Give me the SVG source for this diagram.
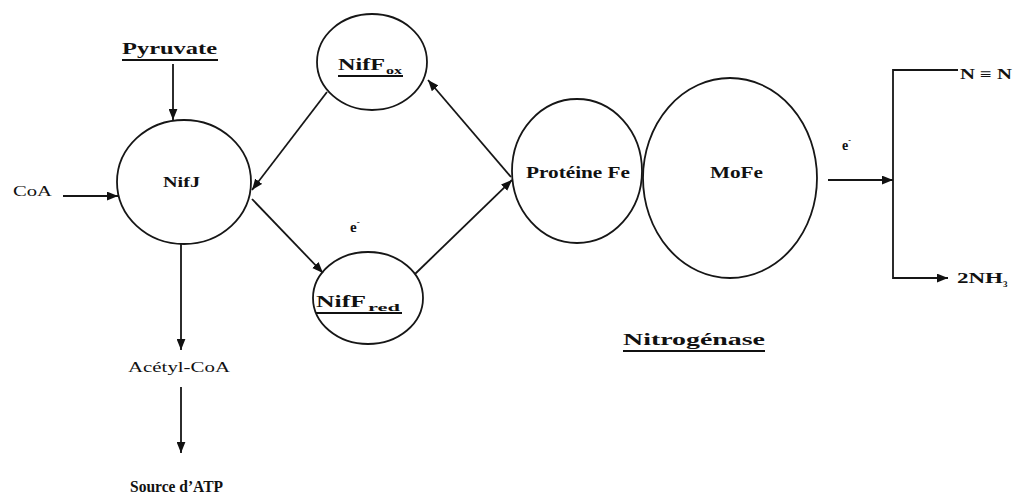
<svg xmlns="http://www.w3.org/2000/svg" width="1018" height="499" viewBox="0 0 1018 499">
<style>
.n{fill:none;stroke:#161616;stroke-width:1.8}
.c{fill:none;stroke:#161616;stroke-width:1.8}
text{font-family:"Liberation Serif","Times New Roman",serif;fill:#111}
.b{font-weight:bold}
.u{stroke:#111;stroke-width:2}
</style>
<defs>
<marker id="ah" viewBox="0 0 10 8" refX="10" refY="4" markerWidth="11" markerHeight="9" orient="auto" markerUnits="userSpaceOnUse"><path d="M0,0 L10,4 L0,8 z" fill="#111"/></marker>
</defs>
<rect width="1018" height="499" fill="#fff"/>
<g id="connectors">
<line class="c" x1="173" y1="64" x2="173" y2="120" marker-end="url(#ah)"/>
<line class="c" x1="63" y1="196" x2="118" y2="196" marker-end="url(#ah)"/>
<line class="c" x1="181" y1="243" x2="181" y2="350" marker-end="url(#ah)"/>
<line class="c" x1="181" y1="387" x2="181" y2="453" marker-end="url(#ah)"/>
<line class="c" x1="327" y1="92" x2="252" y2="190" marker-end="url(#ah)"/>
<line class="c" x1="252" y1="199" x2="323" y2="273" marker-end="url(#ah)"/>
<line class="c" x1="415" y1="274" x2="512" y2="180" marker-end="url(#ah)"/>
<line class="c" x1="511" y1="177" x2="428" y2="80" marker-end="url(#ah)"/>
<line class="c" x1="828" y1="180" x2="893" y2="180" marker-end="url(#ah)"/>
<polyline class="c" points="958,70 893,70 893,278 948,278" marker-end="url(#ah)"/>
</g>
<g id="pyruvate">
<text class="b" x="122" y="54" font-size="17" textLength="95" lengthAdjust="spacingAndGlyphs">Pyruvate</text>
<line class="u" x1="122" y1="60" x2="218" y2="60"/>
</g>
<g id="coa"><text x="13" y="196" font-size="15" textLength="39" lengthAdjust="spacingAndGlyphs">CoA</text></g>
<g id="nifj">
<ellipse class="n" cx="184" cy="182" rx="67" ry="62"/>
<text class="b" x="163" y="187" font-size="15" textLength="37" lengthAdjust="spacingAndGlyphs">NifJ</text>
</g>
<g id="niffox">
<ellipse class="n" cx="372" cy="62" rx="55" ry="48"/>
<text class="b" x="338" y="70" font-size="16" textLength="47" lengthAdjust="spacingAndGlyphs">NifF</text>
<text class="b" x="386" y="74" font-size="10" textLength="16" lengthAdjust="spacingAndGlyphs">ox</text>
<line class="u" x1="338" y1="76" x2="403" y2="76"/>
</g>
<g id="niffred">
<ellipse class="n" cx="368" cy="298" rx="55" ry="46"/>
<text class="b" x="316" y="307" font-size="16" textLength="50" lengthAdjust="spacingAndGlyphs">NifF</text>
<text class="b" x="368" y="311" font-size="10" textLength="32" lengthAdjust="spacingAndGlyphs">red</text>
<line class="u" x1="316" y1="313" x2="402" y2="313"/>
</g>
<g id="e1"><text class="b" x="350" y="232" font-size="15">e<tspan font-size="9" dy="-7">-</tspan></text></g>
<g id="proteinefe">
<ellipse class="n" cx="577" cy="171" rx="65" ry="72"/>
<text class="b" x="526" y="178" font-size="16" textLength="104" lengthAdjust="spacingAndGlyphs">Protéine Fe</text>
</g>
<g id="mofe">
<ellipse class="n" cx="730" cy="178" rx="87" ry="100"/>
<text class="b" x="710" y="178" font-size="16" textLength="53" lengthAdjust="spacingAndGlyphs">MoFe</text>
</g>
<g id="e2"><text class="b" x="842" y="150" font-size="14">e<tspan font-size="8" dy="-7">-</tspan></text></g>
<g id="n2"><text class="b" x="960" y="79" font-size="14" textLength="52" lengthAdjust="spacingAndGlyphs">N ≡ N</text></g>
<g id="nh3">
<text class="b" x="957" y="283" font-size="15" textLength="46" lengthAdjust="spacingAndGlyphs">2NH</text>
<text class="b" x="1003" y="287" font-size="9">3</text>
</g>
<g id="acetylcoa"><text x="128" y="372" font-size="15" textLength="102" lengthAdjust="spacingAndGlyphs">Acétyl-CoA</text></g>
<g id="sourceatp"><text class="b" x="130" y="492" font-size="16" textLength="93" lengthAdjust="spacingAndGlyphs">Source d’ATP</text></g>
<g id="nitrogenase">
<text class="b" x="623" y="345" font-size="17" textLength="142" lengthAdjust="spacingAndGlyphs">Nitrogénase</text>
<line class="u" x1="623" y1="351" x2="765" y2="351"/>
</g>
</svg>
